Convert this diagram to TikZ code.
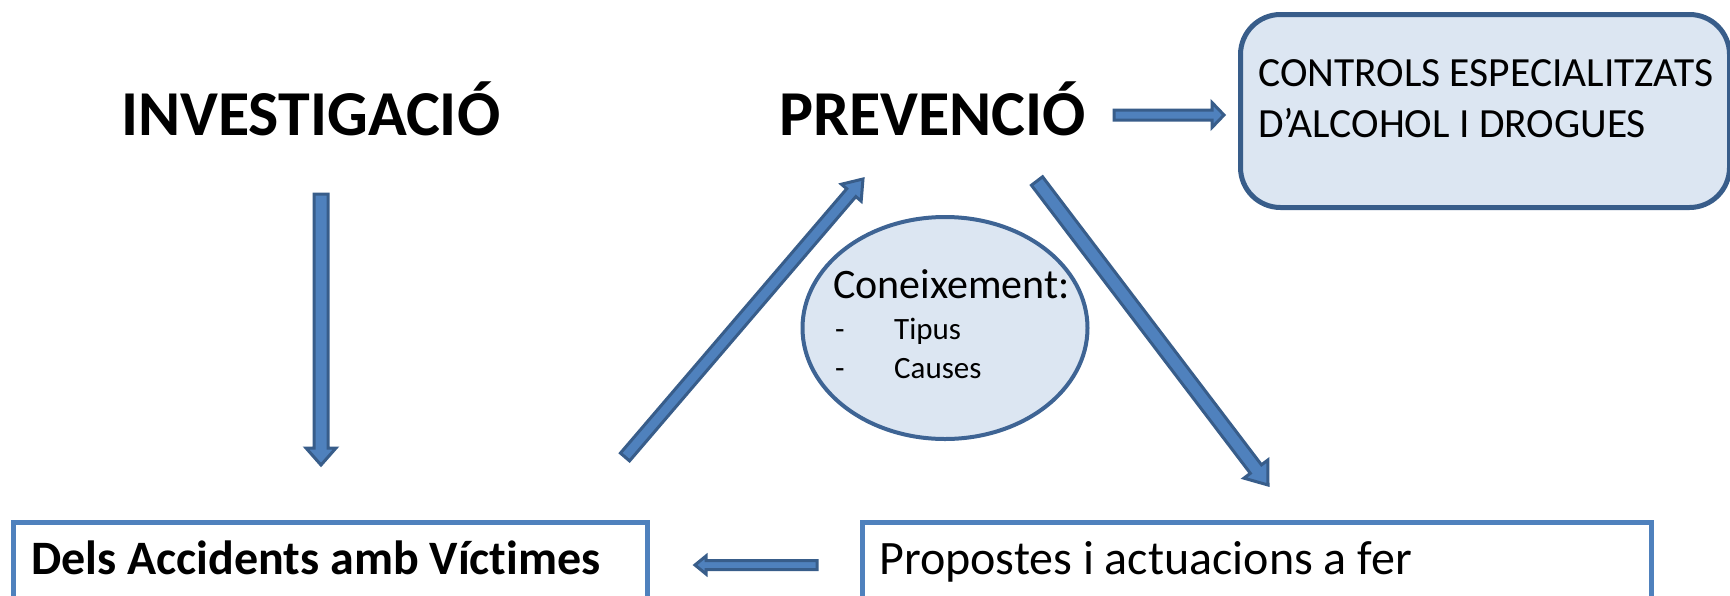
\documentclass[tikz,border=0pt]{standalone}
\usepackage{fontspec}
\setmainfont{Carlito}[Ligatures=CommonOff]
\usetikzlibrary{calc,shapes.geometric}
\definecolor{adark}{HTML}{385D8A}
\definecolor{alight}{HTML}{4F81BD}
\definecolor{bfill}{HTML}{DCE6F2}
\definecolor{bline}{HTML}{4F81BD}
\definecolor{eline}{HTML}{3E6494}
\newcommand\fsz[2]{\fontsize{#1}{#2}\selectfont}
% block arrow: from, to, shaft half width, head half width, head length
\newcommand\blkarrow[5]{%
  \coordinate (bah) at ($(#2)!#5!(#1)$);
  \draw[blockarrow] ($(#1)!#3!90:(#2)$) -- ($(bah)!#3!-90:(#1)$) -- ($(bah)!#4!-90:(#1)$) -- (#2)
    -- ($(bah)!#4!90:(#1)$) -- ($(bah)!#3!90:(#1)$) -- ($(#1)!#3!-90:(#2)$) -- cycle;}
\begin{document}
\begin{tikzpicture}[x=1pt,y=-1pt,
  blockarrow/.style={draw=adark, fill=alight, line width=3pt, line join=miter},
  txt/.style={anchor=base west, inner sep=0pt},
  ctrlbox/.style={draw=adark, fill=bfill, line width=5pt, rounded corners=40pt, anchor=north west, minimum width=489pt, minimum height=193pt, inner sep=0pt},
  ellbox/.style={ellipse, draw=eline, fill=bfill, line width=4pt, minimum width=285pt, minimum height=222pt, inner sep=0pt},
  plainbox/.style={draw=bline, line width=5pt, anchor=north west, inner sep=0pt}]
\useasboundingbox (0,0) rectangle (1730,595);
\fill[white] (0,0) rectangle (1730,595);

% titles
\node[txt, font=\bfseries\fsz{64}{77}] (inv) at (121,135) {INVESTIGACIÓ};
\node[txt, font=\bfseries\fsz{64}{77}] (prev) at (779,135) {PREVENCIÓ};

% controls box
\node[ctrlbox] (ctrl) at (1238,12) {};
\node[txt, font=\fsz{41.5}{46}] (ctrl1) at (1258,86) {CONTROLS ESPECIALITZATS};
\node[txt, font=\fsz{41.5}{46}] (ctrl2) at (1258,137) {D’ALCOHOL I DROGUES};

% ellipse
\node[ellbox] (con) at (945,328) {};
\node[txt, font=\fsz{42}{50}] (con1) at (833,298) {Coneixement:};
\node[txt, font=\fsz{31}{38}] (d1) at (835,339) {-};
\node[txt, font=\fsz{31}{38}] (t1) at (894,339) {Tipus};
\node[txt, font=\fsz{31}{38}] (d2) at (835,378) {-};
\node[txt, font=\fsz{31}{38}] (t2) at (894,378) {Causes};

% bottom boxes
\node[plainbox, minimum width=634pt, minimum height=130pt] (acc) at (11,520) {};
\node[txt, font=\bfseries\fsz{48}{58}] (acct) at (31,574) {Dels Accidents amb Víctimes};
\node[plainbox, minimum width=789pt, minimum height=130pt] (prop) at (860,520) {};
\node[txt, font=\fsz{48}{58}] (propt) at (879,574) {Propostes i actuacions a fer};

% arrow end points
\coordinate (v1) at (321,194);
\coordinate (v2) at (321,465);
\coordinate (u1) at (625,457);
\coordinate (u2) at (863,179);
\coordinate (w1) at (1037,181);
\coordinate (w2) at (1268,485);
\coordinate (r1) at (1114,115);
\coordinate (r2) at (1224,115);
\coordinate (l1) at (817,565);
\coordinate (l2) at (695,565);

\blkarrow{v1}{v2}{7pt}{15pt}{17pt}
\blkarrow{u1}{u2}{6pt}{13pt}{18pt}
\blkarrow{w1}{w2}{7pt}{15pt}{20pt}
\blkarrow{r1}{r2}{5pt}{12.5pt}{12pt}
\blkarrow{l1}{l2}{4.5pt}{9pt}{11pt}
\end{tikzpicture}
\end{document}
